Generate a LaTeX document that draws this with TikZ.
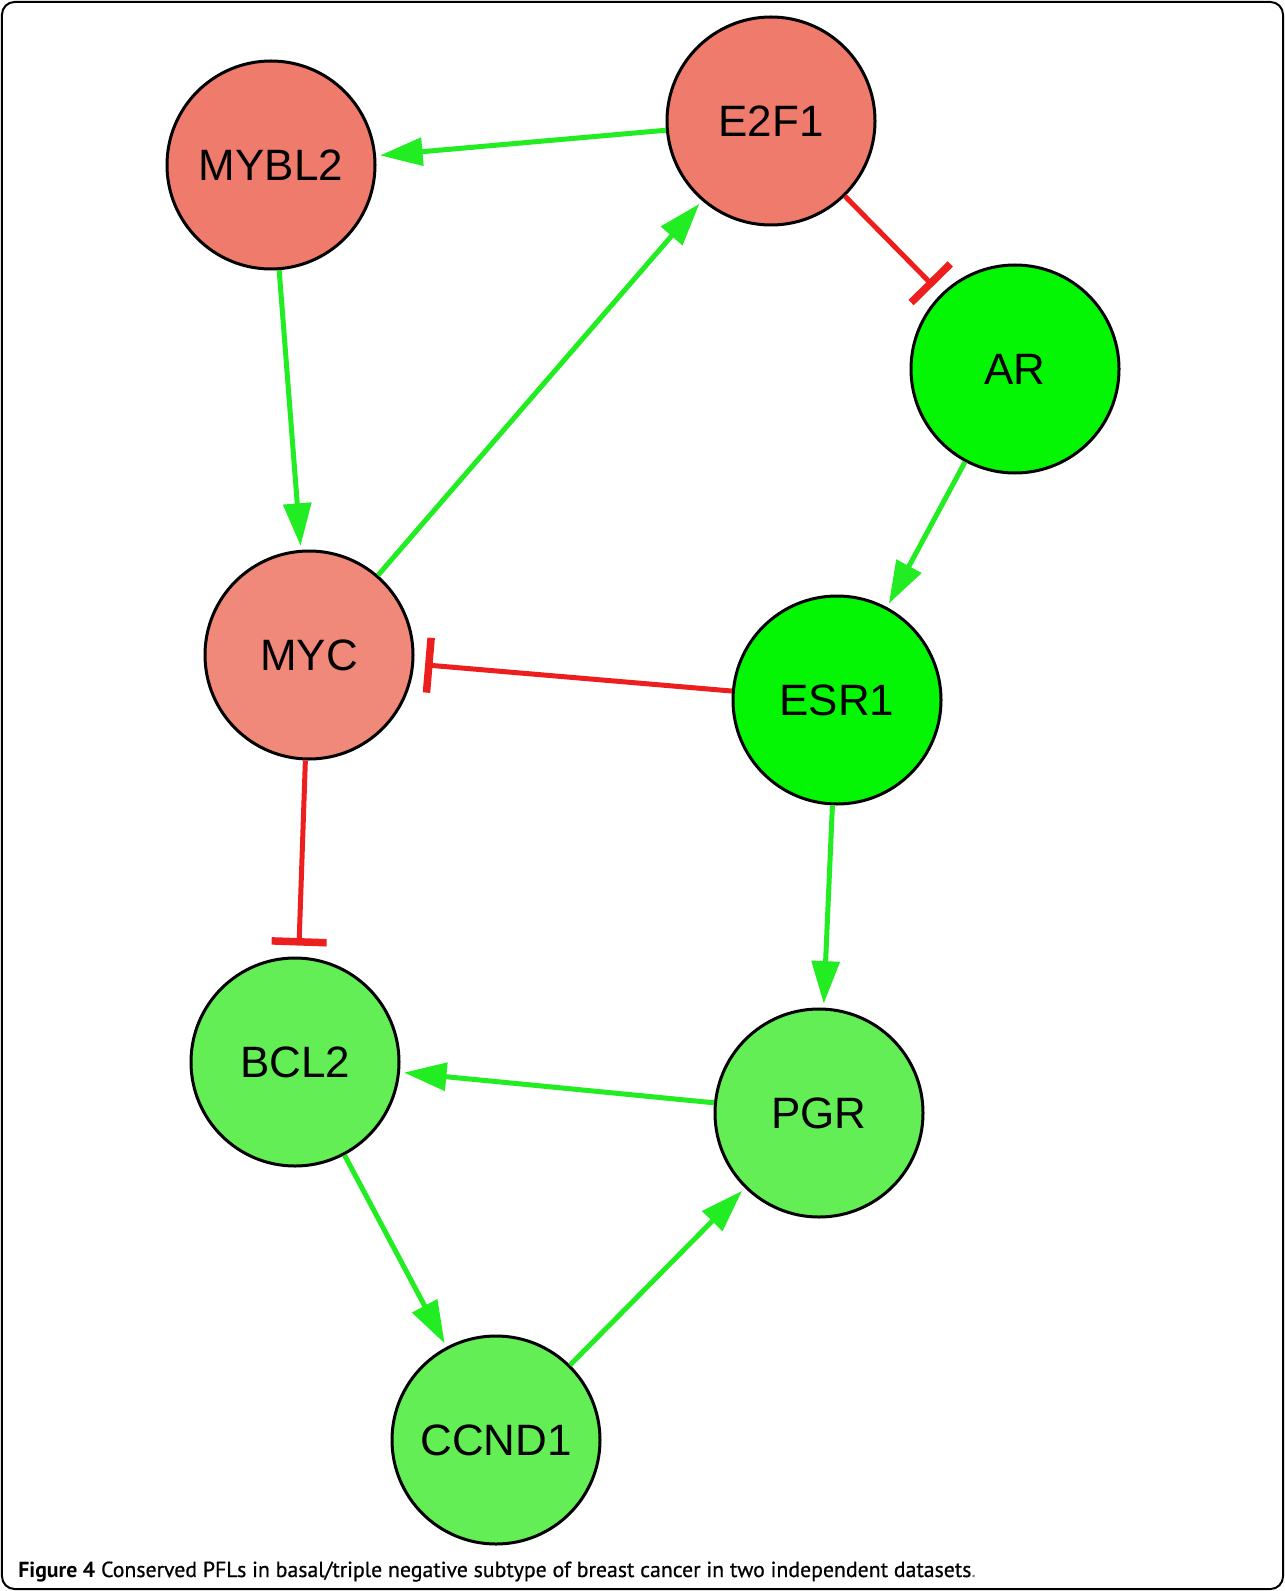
\documentclass[tikz,border=0pt]{standalone}
\usepackage{fontspec}
\setmainfont{Liberation Sans}
\newfontfamily\capfont{PT Sans}
\usepackage{tikz}
\usetikzlibrary{arrows.meta}

\definecolor{upred}{RGB}{239,123,108}
\definecolor{mycred}{RGB}{240,137,122}
\definecolor{downgreen}{RGB}{4,246,4}
\definecolor{lightgreen}{RGB}{100,238,86}
\definecolor{actgreen}{RGB}{34,236,34}
\definecolor{inhred}{RGB}{236,30,30}

\begin{document}
\begin{tikzpicture}[
		gene/.style={circle, draw=black, line width=0.06cm, minimum size=4.16cm, inner sep=0pt, font=\fontsize{25}{25}\selectfont},
		act/.style={draw=actgreen, line width=0.1cm, -{Triangle[length=0.85cm,width=0.55cm]}, shorten >=0.08cm},
		inh/.style={draw=inhred, line width=0.1cm, -{Bar[width=1.1cm,line width=0.15cm]}, shorten >=0.22cm}
	]
				\useasboundingbox (0,0) rectangle (25.7,-31.82);
				\draw[line width=0.04cm, rounded corners=0.25cm] (0.04,-0.04) rectangle (25.66,-31.78);
				
				\node[gene, fill=upred] (A) at (5.42,-3.30) {MYBL2};
				\node[gene, fill=upred] (B) at (15.42,-2.42) {E2F1};
				\node[gene, fill=downgreen] (C) at (20.30,-7.38) {AR};
				\node[gene, fill=mycred] (D) at (6.18,-13.10) {MYC};
				\node[gene, fill=downgreen] (E) at (16.74,-14.00) {ESR1};
				\node[gene, fill=lightgreen] (F) at (5.90,-21.24) {BCL2};
				\node[gene, fill=lightgreen] (G) at (16.38,-22.26) {PGR};
				\node[gene, fill=lightgreen] (H) at (9.92,-28.80) {CCND1};
				
				\draw[act]  (B) -- (A);
				\draw[act]  (A) -- (D);
				\draw[act]  (D) -- (B);
				\draw[inh]  (B) -- (C);
				\draw[act]  (C) -- (E);
				\draw[inh]  (E) -- (D);
				\draw[inh]  (D) -- (F);
				\draw[act]  (E) -- (G);
				\draw[act]  (G) -- (F);
				\draw[act]  (F) -- (H);
				\draw[act]  (H) -- (G);
				
				\node[anchor=base west, inner sep=0pt] (cap) at (0.36,-31.54) {\capfont\fontsize{12.4}{14}\selectfont\textbf{Figure 4} {\addfontfeature{FakeBold=0.7}Conserved PFLs in basal/triple negative subtype of breast cancer in two independent datasets}\textcolor{gray}{.}};
			\end{tikzpicture}
\end{document}
